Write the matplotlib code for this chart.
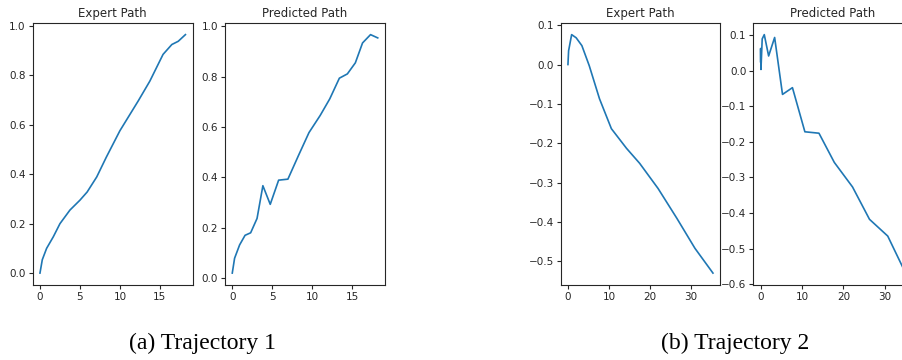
import matplotlib
matplotlib.use('Agg')
import matplotlib.pyplot as plt

# trajectory 1
exp1_x = [0, 0.29, 0.83, 1.67, 2.5, 3.75, 5.0, 5.9, 7.1, 8.3, 10.0, 12.3, 13.75, 15.4, 16.5, 17.3, 18.2]
exp1_y = [0.0, 0.054, 0.10, 0.147, 0.20, 0.255, 0.295, 0.328, 0.389, 0.469, 0.576, 0.697, 0.777, 0.885, 0.925, 0.938, 0.965]
pred1_x = [0, 0.29, 0.92, 1.6, 2.3, 3.1, 3.83, 4.75, 5.8, 6.96, 8.3, 9.6, 11.0, 12.2, 13.4, 14.4, 15.4, 16.3, 17.3, 18.2]
pred1_y = [0.02, 0.079, 0.132, 0.17, 0.18, 0.237, 0.367, 0.293, 0.389, 0.393, 0.488, 0.578, 0.646, 0.712, 0.794,
           0.811, 0.855, 0.934, 0.967, 0.954]

# trajectory 2
exp2_x = [0, 0.16, 0.9, 2.0, 3.4, 5.2, 7.7, 10.6, 14.3, 17.5, 22.0, 26.6, 31.0, 35.4]
exp2_y = [0.0, 0.035, 0.076, 0.068, 0.048, -0.003, -0.087, -0.163, -0.213, -0.251, -0.315, -0.391, -0.467, -0.53]
pred2_x = [0, 0.02, 0.1, 0.4, 0.9, 1.95, 3.4, 5.3, 7.7, 10.7, 14.1, 17.8, 22.2, 26.3, 30.7, 35.0]
pred2_y = [0.025, 0.062, 0.003, 0.089, 0.101, 0.041, 0.093, -0.067, -0.048, -0.172, -0.176, -0.258, -0.327,
           -0.418, -0.465, -0.569]

titles = ['Expert Path', 'Predicted Path', 'Expert Path', 'Predicted Path']
captions = ['(a) Trajectory 1', '(b) Trajectory 2']

fig = plt.figure(figsize=(9.03, 3.6), dpi=100)
W, H = 903.0, 360.0
bottom = 1 - 285 / H
height = (285 - 22.7) / H
lefts = [32.7, 225.0, 560.7, 753.3]
widths = [160.0, 160.0, 159.5, 159.5]
series = [(exp1_x, exp1_y), (pred1_x, pred1_y), (exp2_x, exp2_y), (pred2_x, pred2_y)]

for left, w, (xs, ys), t in zip(lefts, widths, series, titles):
    ax = fig.add_axes([left / W, bottom, w / W, height])
    ax.plot(xs, ys, color='#1f77b4', lw=1.2)
    ax.set_title(t, fontsize=8.5, pad=4, color='#262626')
    ax.tick_params(labelsize=7.5, length=3, width=0.8, pad=2, colors='#262626')
    for s in ax.spines.values():
        s.set_linewidth(0.8)
        s.set_color('#262626')

fig.text(203 / W, 1 - 349 / H, captions[0], family='Liberation Serif', fontsize=17,
         ha='center', va='baseline')
fig.text(735 / W, 1 - 349 / H, captions[1], family='Liberation Serif', fontsize=17,
         ha='center', va='baseline')

fig.savefig('out.png', dpi=100)
